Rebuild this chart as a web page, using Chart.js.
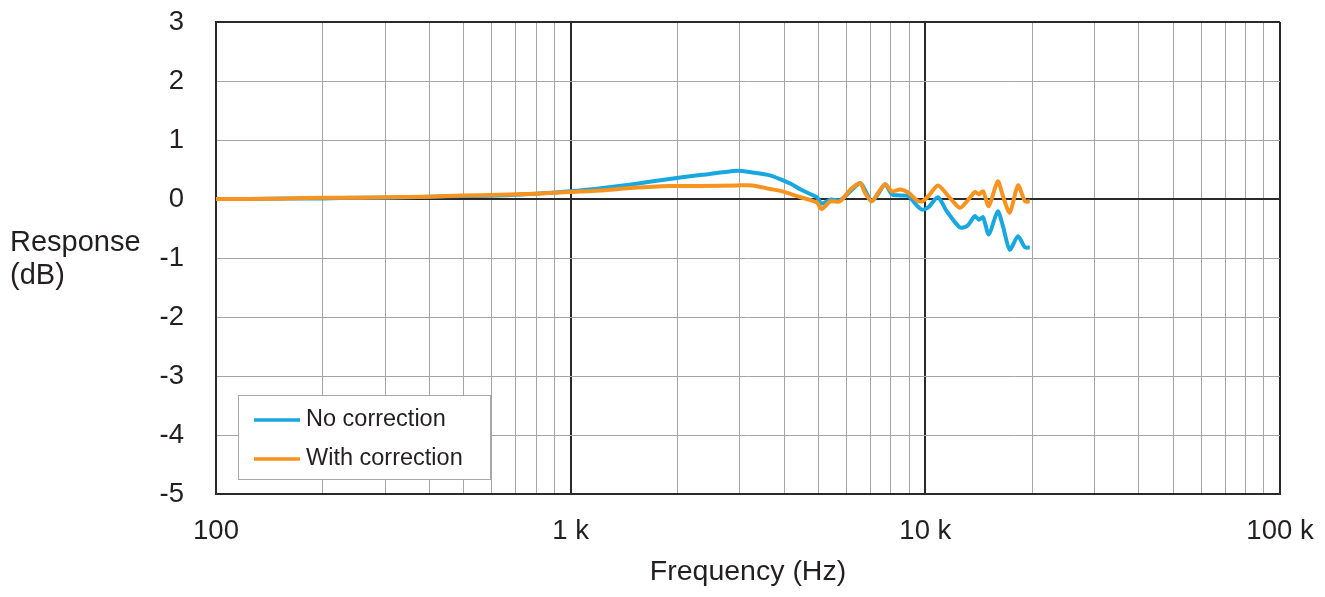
<!DOCTYPE html>
<html>
<head>
<meta charset="utf-8">
<title>Frequency response</title>
<script src="https://cdn.jsdelivr.net/npm/chart.js@4/dist/chart.umd.min.js"></script>
<style>
    html, body { margin: 0; padding: 0; background: #fff; }
    #wrap { width: 1325px; height: 597px; position: relative; }
</style>
</head>
<body>
<div id="wrap"><canvas id="responseChart"></canvas></div>
<script>
// Measured response, Hz vs dB
const freqHz = [
    100, 125, 160, 200, 250, 300, 400, 500, 630, 800,
    1000, 1250, 1500, 1900, 2350, 2950, 3250, 3650, 3950, 4200,
    4450, 4750, 4950, 5100, 5400, 5750, 6150, 6550, 6750, 7050,
    7350, 7700, 8050, 8500, 8950, 9500, 9800, 10200, 10850, 11500,
    12500, 13100, 13800, 14150, 14550, 15100, 16000, 16550, 17300, 18250,
    19100, 19700
];
const noCorrection = [
    0.00, 0.00, 0.01, 0.01, 0.02, 0.02, 0.04, 0.05, 0.06, 0.09,
    0.13, 0.19, 0.25, 0.34, 0.41, 0.48, 0.45, 0.40, 0.32, 0.25,
    0.16, 0.08, 0.03, -0.08, -0.01, -0.02, 0.13, 0.27, 0.16, -0.04,
    0.08, 0.25, 0.08, 0.06, 0.05, -0.12, -0.18, -0.14, 0.03, -0.21,
    -0.48, -0.46, -0.29, -0.35, -0.31, -0.60, -0.21, -0.46, -0.86, -0.63,
    -0.82, -0.82
];
const withCorrection = [
    0.00, 0.00, 0.01, 0.02, 0.02, 0.03, 0.04, 0.06, 0.07, 0.09,
    0.12, 0.15, 0.19, 0.22, 0.22, 0.23, 0.23, 0.17, 0.13, 0.08,
    0.03, -0.02, -0.06, -0.17, -0.04, -0.04, 0.16, 0.27, 0.11, -0.04,
    0.10, 0.25, 0.13, 0.16, 0.11, -0.03, -0.04, 0.05, 0.23, 0.08,
    -0.15, -0.04, 0.12, 0.08, 0.13, -0.12, 0.30, 0.05, -0.23, 0.23,
    -0.04, -0.04
];
const seriesNames = ['No correction', 'With correction'];
const xDecades = [100, 1000, 10000, 100000];
const xTickLabels = ['100', '1 k', '10 k', '100 k'];
const yTitleLines = ['Response', '(dB)'];
const xTitle = 'Frequency (Hz)';

const FONT = '"Liberation Sans", Arial, Helvetica, sans-serif';
const TEXT = '#231f20';
const BLUE = '#19a7e0';
const ORANGE = '#f7931e';
const GRID = '#a5a5a5';
const DARK = '#2a2a2a';
const NONE = 'rgba(0,0,0,0)';

// every 1..9 multiple inside each decade gets a grid line
function logGridTicks() {
    const ticks = [];
    for (let d = 0; d < xDecades.length - 1; d++) {
        for (let m = 1; m < 10; m++) ticks.push({ value: xDecades[d] * m });
    }
    ticks.push({ value: xDecades[xDecades.length - 1] });
    return ticks;
}

const isDecade = v => xDecades.includes(v);

// y title sits to the far left, two horizontal lines
const yTitlePlugin = {
    id: 'yTitle',
    afterDraw(chart) {
        const ctx = chart.ctx;
        ctx.save();
        ctx.font = '29px ' + FONT;
        ctx.fillStyle = TEXT;
        ctx.textAlign = 'left';
        ctx.textBaseline = 'middle';
        yTitleLines.forEach((line, i) => ctx.fillText(line, 10, 243 + i * 33));
        ctx.restore();
    }
};

// boxed legend in the lower-left corner of the plot
const boxLegendPlugin = {
    id: 'boxLegend',
    afterDraw(chart) {
        const { ctx, chartArea } = chart;
        const left = chartArea.left + 22;
        const top = chartArea.bottom - 99;
        ctx.save();
        ctx.fillStyle = '#fff';
        ctx.fillRect(left, top, 252, 84);
        ctx.strokeStyle = '#a8a8a8';
        ctx.lineWidth = 1;
        ctx.strokeRect(left + 0.5, top + 0.5, 252, 84);
        ctx.font = '23.5px ' + FONT;
        ctx.textAlign = 'left';
        ctx.textBaseline = 'middle';
        chart.data.datasets.forEach((ds, i) => {
            const y = top + 25 + i * 39;
            ctx.strokeStyle = ds.borderColor;
            ctx.lineWidth = 3.5;
            ctx.beginPath();
            ctx.moveTo(left + 16, y);
            ctx.lineTo(left + 62, y);
            ctx.stroke();
            ctx.fillStyle = TEXT;
            ctx.fillText(ds.label, left + 68, y);
        });
        ctx.restore();
    }
};

new Chart(document.getElementById('responseChart'), {
    type: 'line',
    data: {
        datasets: [
            {
                label: seriesNames[0],
                data: freqHz.map((f, i) => ({ x: f, y: noCorrection[i] })),
                borderColor: BLUE,
                borderWidth: 4,
                pointRadius: 0,
                tension: 0.25,
                order: 2
            },
            {
                label: seriesNames[1],
                data: freqHz.map((f, i) => ({ x: f, y: withCorrection[i] })),
                borderColor: ORANGE,
                borderWidth: 4,
                pointRadius: 0,
                tension: 0.25,
                order: 1
            }
        ]
    },
    options: {
        responsive: true,
        maintainAspectRatio: false,
        animation: false,
        layout: { padding: { top: 22, right: 45, left: 0, bottom: 0 } },
        plugins: {
            legend: { display: false },
            tooltip: { enabled: false }
        },
        scales: {
            x: {
                type: 'logarithmic',
                min: 100,
                max: 100000,
                afterBuildTicks: scale => { scale.ticks = logGridTicks(); },
                afterFit: scale => { scale.height = 103; },
                ticks: {
                    autoSkip: false,
                    maxRotation: 0,
                    padding: 0,
                    color: TEXT,
                    font: { family: FONT, size: 27.5 },
                    callback: value => {
                        const i = xDecades.indexOf(value);
                        return i >= 0 ? xTickLabels[i] : '';
                    }
                },
                grid: {
                    tickLength: 21,
                    tickColor: NONE,
                    color: c => isDecade(c.tick.value) ? DARK : GRID,
                    lineWidth: c => isDecade(c.tick.value) ? 2 : 1
                },
                border: { display: true, color: DARK, width: 2 },
                title: {
                    display: true,
                    text: xTitle,
                    color: TEXT,
                    font: { family: FONT, size: 28.5 },
                    padding: { top: 4, bottom: 8 }
                }
            },
            y: {
                min: -5,
                max: 3,
                afterFit: scale => { scale.width = 216; },
                ticks: {
                    stepSize: 1,
                    padding: 0,
                    color: TEXT,
                    font: { family: FONT, size: 27.5 }
                },
                grid: {
                    tickLength: 32,
                    tickColor: NONE,
                    color: c => (c.tick.value === 0 || c.tick.value === 3) ? DARK : GRID,
                    lineWidth: c => (c.tick.value === 0 || c.tick.value === 3) ? 2 : 1
                },
                border: { display: true, color: DARK, width: 2 }
            }
        }
    },
    plugins: [yTitlePlugin, boxLegendPlugin]
});
</script>
</body>
</html>
